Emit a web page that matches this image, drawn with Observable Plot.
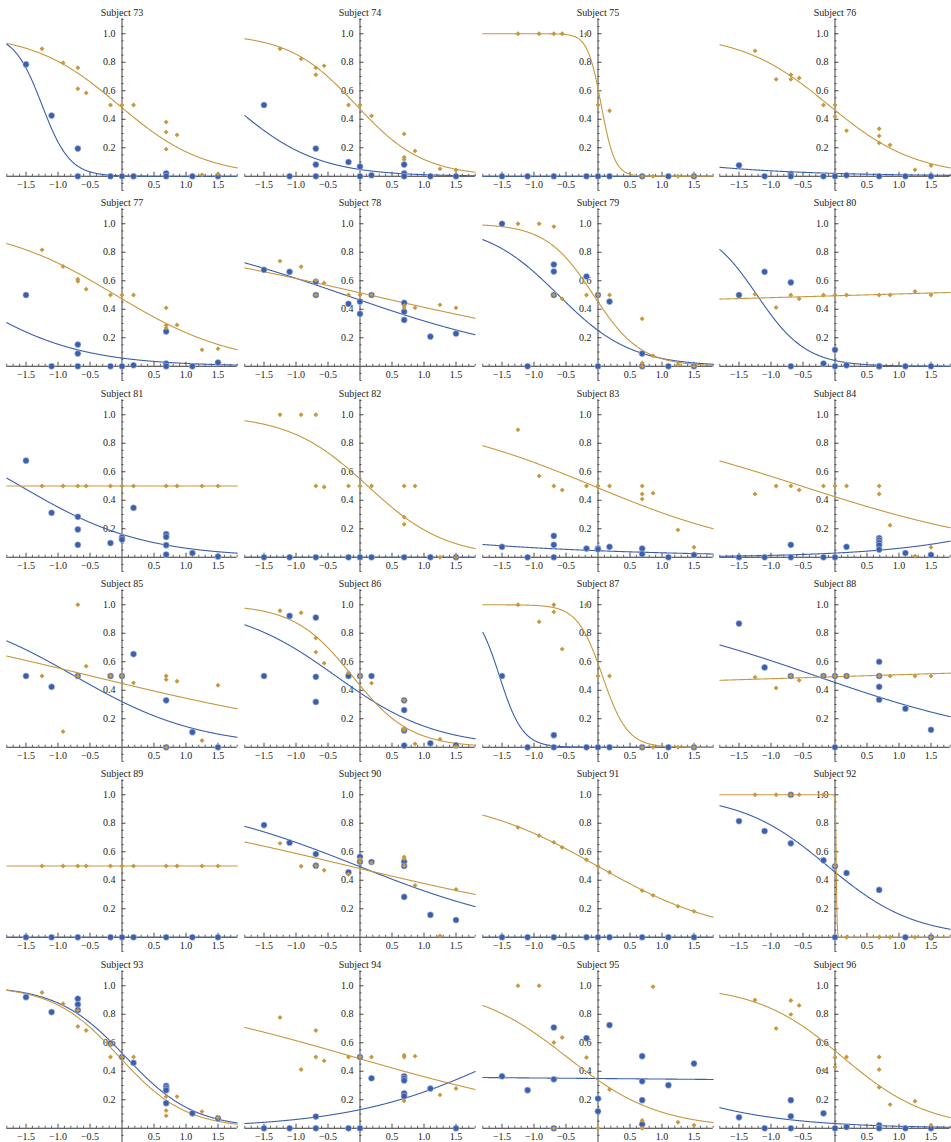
<!DOCTYPE html>
<html><head><meta charset="utf-8">
<script src="https://cdn.jsdelivr.net/npm/d3@7"></script>
<script src="https://cdn.jsdelivr.net/npm/@observablehq/plot@0.6"></script>
<style>
html,body{margin:0;padding:0;background:#fff;}
#grid{position:relative;width:951px;height:1142px;overflow:hidden;}
.panel{position:absolute;width:238px;height:190px;}
.panel svg{overflow:visible;font-family:'Liberation Serif','Times New Roman',serif !important;}
.panel svg text{font-family:'Liberation Serif','Times New Roman',serif !important;}
</style></head><body><div id="grid"></div>
<script>
const subjects = [73,74,75,76,77,78,79,80,81,82,83,84,85,86,87,88,89,90,91,92,93,94,95,96];
const blueXs = [-1.5,-1.1,-0.69,-0.18,0,0.18,0.69,1.1,1.5];
const orangeXs = [-1.25,-0.92,-0.69,-0.56,-0.18,0,0.18,0.69,0.86,1.25,1.5];
const xTickLabels = [-1.5,-1,-0.5,0.5,1,1.5];
const yTickLabels = [0.2,0.4,0.6,0.8,1.0];

// observed proportions per x position (several values when several points share an x)
const blueYs = [
 [[0.785],[0.426],[0.194,0],[0],[0],[0],[0.02,0],[0],[0]],
 [[0.5],[0],[0.194,0.082,0],[0.1],[0.068,0],[0.007],[0.082,0.02,0],[0],[0]],
 [[0],[0],[0],[0],[0],[0],[0],[0],[0]],
 [[0.077],[0],[0.016,0],[0],[0],[0.007],[0],[0],[0]],
 [[0.5],[0],[0.152,0.089,0],[0],[0],[0.007],[0.244,0.019,0],[0],[0.026]],
 [[0.677],[0.663],[0.593,0.5],[0.438],[0.454,0.368],[0.5],[0.445,0.382,0.325],[0.208],[0.229]],
 [[1.0],[0],[0.714,0.665,0.5],[0.63],[0.5,0],[0.454],[0.089,0],[0],[0]],
 [[0.5],[0.663],[0.588,0],[0.019],[0.115,0],[0.007],[0,0],[0],[0]],
 [[0.678],[0.312],[0.284,0.195,0.087],[0.1],[0.14,0.124],[0.347],[0.162,0.143,0.085,0.019],[0.03],[0.005]],
 [[0],[0],[0],[0],[0],[0],[0],[0],[0]],
 [[0.073],[0],[0.15,0.087,0],[0.061],[0.063,0.056],[0.073],[0.061,0.023],[0],[0.016]],
 [[0],[0],[0.087,0],[0],[0],[0.073],[0.134,0.12,0.103,0.085,0.054],[0.03],[0.016]],
 [[0.5],[0.424],[0.5],[0.5],[0.5],[0.654],[0.329,0],[0.106],[0]],
 [[0.5],[0.922],[0.91,0.494,0.318],[0.5],[0.5],[0.5],[0.329,0.261,0.118,0.012],[0.028],[0.014]],
 [[0.5],[0],[0.085,0],[0],[0],[0],[0],[0],[0]],
 [[0.868],[0.56],[0.5],[0.5],[0.5,0],[0.5],[0.6,0.5,0.424,0.334],[0.271],[0.122]],
 [[0],[0],[0],[0],[0],[0],[0],[0],[0]],
 [[0.787],[0.664],[0.584,0.502],[0.456],[0.565,0.53],[0.528],[0.53,0.5,0.283],[0.157],[0.121]],
 [[0],[0],[0],[0],[0],[0],[0],[0],[0]],
 [[0.815],[0.745],[1.0,0.659],[0.54],[0.498,0],[0.451],[0.332],[0],[0]],
 [[0.92],[0.815],[0.909,0.869,0.829],[0.595],[0.5],[0.459],[0.297,0.281,0.267,0.176],[0.105],[0.07]],
 [[0],[0],[0.082,0],[0],[0.5,0],[0.351],[0.365,0.35,0.335,0.245,0.225],[0.279],[0]],
 [[0.365],[0.267],[0.707,0.344,0],[0.632],[0.208,0.119],[0.724],[0.506,0.33,0.197,0.028],[0.302],[0.454]],
 [[0.077],[0],[0.197,0.084,0],[0.105],[0],[0.009],[0.021,0],[0],[0]]
];
const orangeYs = [
 [[0.895],[0.796],[0.761,0.614],[0.585],[0.5],[0.5],[0.5],[0.38,0.31,0.19],[0.29],[0.01],[0.015]],
 [[0.895],[0.824],[0.761,0.712],[0.775],[0.5],[0.5],[0.424],[0.297,0.133,0.117],[0.178],[0.052],[0.044]],
 [[1],[1],[1],[1],[1],[0.5],[0.46],[0],[0],[0],[0]],
 [[0.88],[0.68],[0.712,0.68],[0.69],[0.5],[0.5,0.42],[0.32],[0.333,0.283,0.234],[0.22],[0.045],[0.075]],
 [[0.817],[0.70],[0.611,0.597],[0.541],[0.5],[0.5],[0.5],[0.41,0.288,0.269],[0.29],[0.115],[0.122]],
 [[0.738],[0.698],[0.602,0.5],[0.585],[0.5],[0.5],[0.5],[0.426,0.41],[0.41],[0.431],[0.41]],
 [[1],[1],[0.98,0.5],[0.473],[0.5],[0.5],[0.5],[0.333,0.023,0],[0.073],[0.012],[0]],
 [[0.506],[0.412],[0.5],[0.473],[0.5],[0.5],[0.5],[0.5],[0.5],[0.525],[0.5]],
 [[0.5],[0.5],[0.5],[0.5],[0.5],[0.5],[0.5],[0.5],[0.5],[0.5],[0.5]],
 [[1],[1],[1,0.5],[0.493],[0.5],[0.5],[0.5],[0.5,0.282,0.232],[0.5],[0],[0]],
 [[0.894],[0.57],[0.5],[0.472],[0.5],[0.5],[0.5],[0.5,0.444,0.408],[0.45],[0.192],[0.07]],
 [[0.444],[0.5],[0.5],[0.472],[0.5],[0.5],[0.5],[0.5,0.444],[0.225],[0.007],[0.07]],
 [[0.5],[0.11],[1.0,0.5],[0.569],[0.5],[0.5],[0.452],[0.5,0.475,0],[0.463],[0.047],[0.435]],
 [[0.958],[0.944],[0.767,0.668],[0.59],[0.522],[0.5],[0.45],[0.33,0.132,0.12],[0.024],[0.056],[0.005]],
 [[1],[0.88],[1,0.95],[0.689],[1],[0.5],[0.5],[0],[0],[0],[0]],
 [[0.492],[0.416],[0.5],[0.47],[0.5],[0.5],[0.5],[0.5],[0.5],[0.5],[0.5]],
 [[0.5],[0.5],[0.5],[0.5],[0.5],[0.5],[0.5],[0.5],[0.5],[0.5],[0.5]],
 [[0.659],[0.498],[0.502],[0.47],[0.442],[0.55,0.53],[0.523],[0.563,0.551,0.502],[0.364],[0.009],[0.336]],
 [[0.771],[0.713],[0.666],[0.631],[0.544],[0.498],[0.456],[0.327],[0.294],[0.217],[0.182]],
 [[1],[1],[1],[1],[1],[0.5],[0],[0],[0],[0],[0]],
 [[0.953],[0.874],[0.829,0.714],[0.686],[0.592,0.5],[0.5],[0.5],[0.222,0.124,0.087],[0.222],[0.117],[0.073]],
 [[0.777],[0.412],[0.686,0.5],[0.473],[0.5],[0.5],[0.5],[0.513,0.5,0.192],[0.506],[0.234],[0.279]],
 [[1],[1],[0.602,0],[0.637],[0.497],[0],[0.272],[0.054,0],[0.993],[0.042],[0.021]],
 [[0.9],[0.7],[0.897,0.799],[0.862],[0.407],[0.497,0.429],[0.5],[0.5,0.412,0.288],[0.166],[0.19],[0.021]]
];
// fitted logistic curves: logit(p) = intercept + slope * x
const blueIntercept = [-5.75,-3.0,-8,-3.89,-2.8,-0.143,-1.09,-3.17,-1.65,-8,-3.035,-3.505,-0.754,-0.48,-8.47,-0.183,-8,-0.02,-8,-0.17,0.112,-1.897,-0.623,-3.38];
const blueSlope     = [-4.6,-1.5,0,-0.66,-1.1,-0.62,-1.76,-2.6,-1.04,0,-0.397,0.803,-1.018,-1.27,-5.5,-0.62,0,-0.708,0,-1.472,-1.87,0.824,-0.0167,-0.89];
const orangeIntercept = [-0.075,-0.114,0.47,-0.146,-0.107,0.062,-0.19,-0.022,0,0.196,-0.052,-0.304,-0.21,-0.264,0.357,-0.02,0,-0.072,-0.01,3,-0.077,-0.05,-0.675,0.175];
const orangeSlope     = [-1.5,-1.9,-9.4,-1.46,-1.07,-0.41,-2.7,0.052,0,-1.63,-0.74,-0.577,-0.436,-2.2,-5.1,0.056,0,-0.429,-1.0,-150,-1.93,-0.518,-1.39,-1.49];

const BLUE = "#3c5fab", ORANGE = "#c6983f";
const FONT = "'Liberation Serif','Times New Roman',serif";
const W = 238, H = 190, COLW = 951/4, ROWH = 1142/6;
const ML = 6.3, MR = 1.3, MT = 18.3, MB = 0;
const XD = [-1.8, 1.8], YD = [-0.1, 1.105];
const pxX = (XD[1]-XD[0])/(W-ML-MR), pxY = (YD[1]-YD[0])/(H-MT-MB);
const xMinor = d3.range(-18,19).filter(i => i !== 0 && i % 5 !== 0).map(i => i/10);
const xMajor = [-1.5,-1,-0.5,0.5,1,1.5];
const yMinor = d3.range(-2,23).filter(i => i !== 0 && i % 4 !== 0).map(i => i/20);
const yMajor = [0.2,0.4,0.6,0.8,1.0];
const xGrid = d3.range(-360,361).map(i => i/200);
const logistic = (a,b) => xGrid.map(x => ({x, y: 1/(1+Math.exp(-(a + b*x)))}));
const expand = (xs, ys) => ys.flatMap((vals,j) => vals.map(y => ({x: xs[j], y})));
const fmt = d => (d < 0 ? "\u2212" : "") + Math.abs(d).toFixed(1);
const AX = "#333";
const txt = {fontFamily: FONT, fontSize: 10, fill: "#222"};

const grid = document.getElementById("grid");
subjects.forEach((s, i) => {
  const r = Math.floor(i/4), c = i % 4;
  const div = document.createElement("div");
  div.className = "panel";
  div.style.left = (c*COLW) + "px";
  div.style.top = (r*ROWH) + "px";
  const chart = Plot.plot({
    width: W, height: H, marginLeft: ML, marginRight: MR, marginTop: MT, marginBottom: MB,
    x: {domain: XD, axis: null},
    y: {domain: YD, axis: null},
    style: {fontFamily: FONT, fontSize: "10px", background: "transparent", color: "#222", overflow: "visible"},
    marks: [
      Plot.ruleY([0], {stroke: AX, strokeWidth: 1}),
      Plot.ruleX([0], {stroke: "#555", strokeWidth: 1.1}),
      Plot.ruleX(xMinor, {x: d => d, y1: 0, y2: 2*pxY, stroke: AX, strokeWidth: 0.8}),
      Plot.ruleX(xMajor, {x: d => d, y1: 0, y2: 4*pxY, stroke: AX, strokeWidth: 0.9}),
      Plot.ruleY(yMinor, {y: d => d, x1: 0, x2: 2*pxX, stroke: AX, strokeWidth: 0.8}),
      Plot.ruleY(yMajor, {y: d => d, x1: 0, x2: 4*pxX, stroke: AX, strokeWidth: 0.9}),
      Plot.text(xTickLabels, {x: d => d, y: 0, text: fmt, dy: 8.5, lineAnchor: "middle", ...txt}),
      Plot.text(yTickLabels, {x: 0, y: d => d, text: d => d.toFixed(1), textAnchor: "end", dx: -6.5, lineAnchor: "middle", ...txt}),
      Plot.line(logistic(blueIntercept[i], blueSlope[i]), {x: "x", y: "y", stroke: BLUE, strokeWidth: 1.1}),
      Plot.line(logistic(orangeIntercept[i], orangeSlope[i]), {x: "x", y: "y", stroke: ORANGE, strokeWidth: 1.1}),
      Plot.dot(expand(blueXs, blueYs[i]), {x: "x", y: "y", r: 3.1, fill: BLUE, stroke: "#b9c6e4", strokeWidth: 0.6}),
      Plot.dot(expand(orangeXs, orangeYs[i]), {x: "x", y: "y", r: 2.2, symbol: "diamond2", fill: ORANGE, stroke: "none"}),
      Plot.text([`Subject ${s}`], {frameAnchor: "top", dy: -6, lineAnchor: "middle", ...txt})
    ]
  });
  div.appendChild(chart);
  grid.appendChild(div);
});
</script></body></html>
